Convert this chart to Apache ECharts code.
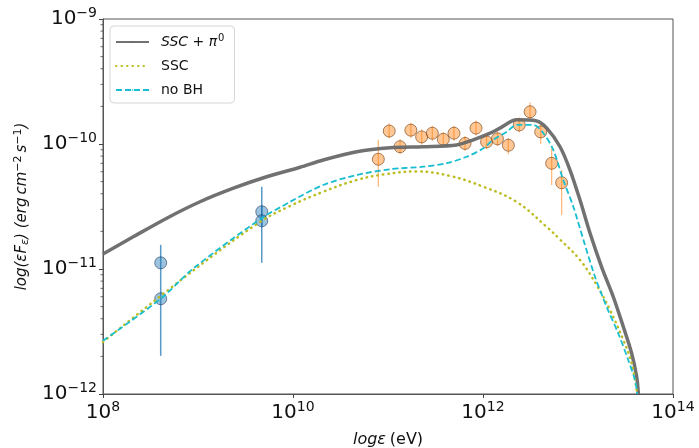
<!DOCTYPE html>
<html>
<head>
<meta charset="utf-8">
<script src="https://cdn.jsdelivr.net/npm/echarts@6/dist/echarts.min.js"></script>
<style>
    html, body { margin: 0; padding: 0; background: #fff; }
    #id-div-chart { width: 699px; height: 448px; }
</style>
</head>
<body>
<div id="id-div-chart"></div>
<script>
var log = console.log.bind(console)

var e = (selector) => document.querySelector(selector)

// 模型曲线 SSC + pi0
var totalX = [1.0e8, 2.08e8, 4.69e8, 1.05e9, 2.36e9, 5.28e9, 1.19e10, 2.08e10, 4.69e10, 1.05e11, 2.36e11, 5.28e11, 7.91e11, 1.19e12, 1.51e12, 2.26e12, 3.67e12, 4.69e12, 6.47e12, 8.24e12, 1.05e13, 1.34e13, 1.77e13, 2.35e13, 3.0e13, 3.67e13, 4.15e13, 4.32e13]
var totalY = [1.32e-11, 1.81e-11, 2.55e-11, 3.45e-11, 4.43e-11, 5.47e-11, 6.52e-11, 7.45e-11, 8.67e-11, 9.33e-11, 9.51e-11, 9.82e-11, 1.08e-10, 1.22e-10, 1.34e-10, 1.56e-10, 1.53e-10, 1.34e-10, 9.51e-11, 6.19e-11, 3.56e-11, 1.93e-11, 1.04e-11, 6.0e-12, 3.45e-12, 2.12e-12, 1.37e-12, 1.0e-12]

// SSC
var sscX = [1.0e8, 8.93e8, 4.5e9, 9.29e9, 2.08e10, 4.69e10, 8.93e10, 2.0e11, 4.5e11, 1.01e12, 2.26e12, 4.69e12, 6.47e12, 1.05e13, 1.57e13, 2.17e13, 3.0e13, 3.67e13, 4.2e13]
var sscY = [2.61e-12, 9.73e-12, 2.38e-11, 3.19e-11, 4.15e-11, 5.15e-11, 5.70e-11, 6.03e-11, 5.55e-11, 4.55e-11, 3.44e-11, 2.17e-11, 1.72e-11, 1.18e-11, 7.45e-12, 4.70e-12, 2.70e-12, 1.76e-12, 1.0e-12]

// no BH
var noBhX = [1.0e8, 4.05e8, 8.93e8, 4.5e9, 9.29e9, 2.08e10, 4.69e10, 1.05e11, 2.36e11, 4.15e11, 6.73e11, 1.01e12, 1.28e12, 1.77e12, 2.26e12, 3.38e12, 4.32e12, 5.5e12, 7.0e12, 8.93e12, 1.14e13, 1.51e13, 2.0e13, 2.65e13, 3.38e13, 3.98e13, 4.2e13]
var noBhY = [2.67e-12, 5.78e-12, 1.01e-11, 2.5e-11, 3.44e-11, 4.7e-11, 5.65e-11, 6.28e-11, 6.58e-11, 7.02e-11, 7.91e-11, 9.25e-11, 1.08e-10, 1.25e-10, 1.42e-10, 1.42e-10, 1.22e-10, 8.95e-11, 5.15e-11, 3.15e-11, 1.71e-11, 8.67e-12, 4.99e-12, 3.06e-12, 1.87e-12, 1.29e-12, 1.0e-12]

// 低能观测点 (蓝)
var lowX = [4.05e8, 4.05e8, 4.69e9, 4.69e9]
var lowY = [1.12e-11, 5.78e-12, 2.87e-11, 2.43e-11]
var lowLo = [8.0e-12, 2.02e-12, 2.2e-11, 1.12e-11]
var lowHi = [1.56e-11, 8.0e-12, 4.55e-11, 3.2e-11]

// 高能观测点 (橙)
var highX = [7.91e10, 1.03e11, 1.34e11, 1.74e11, 2.26e11, 2.93e11, 3.82e11, 4.95e11, 6.47e11, 8.44e11, 1.09e12, 1.42e12, 1.85e12, 2.41e12, 3.13e12, 4.05e12, 5.28e12, 6.73e12]
var highY = [7.55e-11, 1.27e-10, 9.51e-11, 1.29e-10, 1.14e-10, 1.22e-10, 1.09e-10, 1.22e-10, 1.01e-10, 1.34e-10, 1.04e-10, 1.10e-10, 9.77e-11, 1.42e-10, 1.81e-10, 1.25e-10, 7.01e-11, 4.90e-11]
var highLo = [4.55e-11, 1.11e-10, 8.3e-11, 1.12e-10, 9.9e-11, 1.06e-10, 9.5e-11, 1.06e-10, 8.8e-11, 1.17e-10, 9.1e-11, 9.6e-11, 8.3e-11, 1.24e-10, 1.55e-10, 1.0e-10, 4.70e-11, 2.70e-11]
var highHi = [1.08e-10, 1.46e-10, 1.09e-10, 1.48e-10, 1.31e-10, 1.40e-10, 1.25e-10, 1.40e-10, 1.16e-10, 1.54e-10, 1.19e-10, 1.26e-10, 1.12e-10, 1.63e-10, 2.15e-10, 1.45e-10, 9.29e-11, 6.19e-11]

// y 轴次刻度
var yMinorTicks = [2e-12, 3e-12, 4e-12, 5e-12, 6e-12, 7e-12, 8e-12, 9e-12, 2e-11, 3e-11, 4e-11, 5e-11, 6e-11, 7e-11, 8e-11, 9e-11, 2e-10, 3e-10, 4e-10, 5e-10, 6e-10, 7e-10, 8e-10, 9e-10]

var zip = function(xs, ys) {
    var r = []
    for (var i = 0; i < xs.length; i++) {
        r.push([xs[i], ys[i]])
    }
    return r
}

var zip3 = function(xs, a, b) {
    var r = []
    for (var i = 0; i < xs.length; i++) {
        r.push([xs[i], a[i], b[i]])
    }
    return r
}

var powerLabel = function(value) {
    var p = Math.round(Math.log10(value))
    var s = String(p).replace('-', '\u2212')
    return '{b|10}{s|' + s + '}'
}

var labelRich = {
    b: { fontSize: 20, fontFamily: 'DejaVu Sans', color: '#111' },
    s: { fontSize: 14, fontFamily: 'DejaVu Sans', color: '#111', padding: [0, 0, 12, 0] },
}

var errorBars = function(color, width) {
    return function(params, api) {
        var x = api.value(0)
        var p1 = api.coord([x, api.value(1)])
        var p2 = api.coord([x, api.value(2)])
        return {
            type: 'line',
            shape: { x1: p1[0], y1: p1[1], x2: p2[0], y2: p2[1] },
            style: { stroke: color, lineWidth: width },
        }
    }
}

var minorTick = function(params, api) {
    var p = api.coord([api.value(0), api.value(1)])
    return {
        type: 'line',
        shape: { x1: p[0] - 2.5, y1: p[1], x2: p[0], y2: p[1] },
        style: { stroke: '#444', lineWidth: 0.8 },
    }
}

var configuredChart = function() {
    var element = e('#id-div-chart')
    var chart = echarts.init(element, null, { renderer: 'canvas' })
    return chart
}

var chartOption = function() {
    var option = {
        animation: false,
        backgroundColor: '#fff',
        textStyle: { fontFamily: 'DejaVu Sans' },
        grid: {
            left: 103,
            right: 26,
            top: 19,
            bottom: 54,
            outerBoundsMode: 'none',
            containLabel: false,
            show: true,
            borderColor: '#555',
            borderWidth: 1,
        },
        legend: {
            orient: 'vertical',
            left: 110,
            top: 26,
            itemWidth: 33,
            itemHeight: 2,
            itemGap: 10,
            padding: [7, 10, 6, 5],
            borderColor: '#d6d6d6',
            borderWidth: 1,
            borderRadius: 4,
            backgroundColor: 'rgba(255,255,255,0.8)',
            data: ['SSC + \u03c0', 'SSC', 'no BH'],
            formatter: function(name) {
                if (name == 'SSC + \u03c0') {
                    return '{i|SSC + \u03c0}{s|0}'
                }
                return name
            },
            textStyle: {
                fontSize: 14,
                color: '#111',
                padding: [0, 0, 0, 7],
                rich: {
                    i: { fontSize: 14, fontStyle: 'italic', color: '#111', fontFamily: 'DejaVu Sans' },
                    s: { fontSize: 10, color: '#111', fontFamily: 'DejaVu Sans', padding: [0, 0, 8, 1] },
                },
            },
        },
        xAxis: {
            type: 'log',
            logBase: 10,
            min: 1e8,
            max: 1e14,
            interval: 2,
            name: '{i|log\u03b5} {n|(eV)}',
            nameLocation: 'middle',
            nameGap: 38,
            nameTextStyle: {
                rich: {
                    i: { fontSize: 16, fontStyle: 'italic', color: '#111', fontFamily: 'DejaVu Sans' },
                    n: { fontSize: 16, color: '#111', fontFamily: 'DejaVu Sans' },
                },
            },
            axisLine: { show: true, lineStyle: { color: '#555', width: 1 } },
            axisTick: { show: true, inside: false, length: 4, lineStyle: { color: '#444' } },
            axisLabel: {
                margin: 6,
                formatter: powerLabel,
                rich: labelRich,
            },
            splitLine: { show: false },
        },
        yAxis: {
            type: 'log',
            logBase: 10,
            min: 1e-12,
            max: 1e-9,
            interval: 1,
            name: '{i|log(\u03b5F}{sub|\u03b5}{i|) (erg\u2009cm}{sup|\u22122}{i|\u2009s}{sup|\u22121}{i|)}',
            nameLocation: 'middle',
            nameRotate: 90,
            nameGap: 67,
            nameTextStyle: {
                rich: {
                    i: { fontSize: 15, fontStyle: 'italic', color: '#111', fontFamily: 'DejaVu Sans' },
                    sub: { fontSize: 11, fontStyle: 'italic', color: '#111', fontFamily: 'DejaVu Sans', padding: [6, 0, 0, 0] },
                    sup: { fontSize: 11, color: '#111', fontFamily: 'DejaVu Sans', padding: [0, 0, 8, 0] },
                },
            },
            axisLine: { show: true, lineStyle: { color: '#555', width: 1 } },
            axisTick: { show: true, inside: false, length: 4, lineStyle: { color: '#444' } },
            axisLabel: {
                margin: 6,
                formatter: powerLabel,
                rich: labelRich,
            },
            splitLine: { show: false },
        },
        series: [
            {
                name: 'lowErr',
                type: 'custom',
                renderItem: errorBars('rgba(31,119,180,0.75)', 1.5),
                data: zip3(lowX, lowLo, lowHi),
                encode: { x: 0, y: [1, 2] },
                z: 2,
            },
            {
                name: 'highErr',
                type: 'custom',
                renderItem: errorBars('rgba(255,127,14,0.55)', 1.3),
                data: zip3(highX, highLo, highHi),
                encode: { x: 0, y: [1, 2] },
                z: 2,
            },
            {
                name: 'low',
                type: 'scatter',
                data: zip(lowX, lowY),
                symbol: 'circle',
                symbolSize: 12,
                itemStyle: {
                    color: 'rgba(31,119,180,0.55)',
                    borderColor: 'rgba(20,50,90,0.7)',
                    borderWidth: 1,
                },
                z: 3,
            },
            {
                name: 'high',
                type: 'scatter',
                data: zip(highX, highY),
                symbol: 'circle',
                symbolSize: 12,
                itemStyle: {
                    color: 'rgba(255,127,14,0.55)',
                    borderColor: 'rgba(110,55,10,0.75)',
                    borderWidth: 1,
                },
                z: 3,
            },
            {
                name: 'SSC + \u03c0',
                type: 'line',
                data: zip(totalX, totalY),
                showSymbol: false,
                symbol: 'none',
                smooth: 0.3,
                lineStyle: { color: '#696969', width: 3.5, opacity: 0.95 },
                itemStyle: { color: '#696969' },
                z: 4,
            },
            {
                name: 'SSC',
                type: 'line',
                data: zip(sscX, sscY),
                showSymbol: false,
                symbol: 'none',
                smooth: 0.4,
                lineStyle: { color: '#bcbd22', width: 2.5, type: [0.5, 5], cap: 'round' },
                itemStyle: { color: '#bcbd22' },
                z: 4,
            },
            {
                name: 'no BH',
                type: 'line',
                data: zip(noBhX, noBhY),
                showSymbol: false,
                symbol: 'none',
                smooth: 0.3,
                lineStyle: { color: '#17becf', width: 1.8, type: [6, 3] },
                itemStyle: { color: '#17becf' },
                z: 4,
            },
            {
                name: 'minor',
                type: 'custom',
                renderItem: minorTick,
                data: zip(yMinorTicks.map(() => 1e8), yMinorTicks),
                clip: false,
                silent: true,
                z: 5,
            },
        ],
    }
    return option
}

var __main = function() {
    var chart = configuredChart()
    chart.setOption(chartOption())
}

__main()
</script>
</body>
</html>
